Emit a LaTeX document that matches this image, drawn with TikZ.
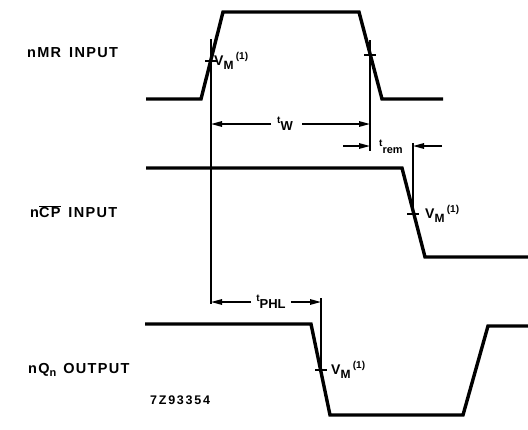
\documentclass[tikz,border=0pt]{standalone}
\usepackage{fontspec}
\setmainfont{Liberation Sans}
\newfontfamily\lblfont[LetterSpace=9]{Liberation Sans}
\newfontfamily\codefont[LetterSpace=14]{Liberation Sans}
\usetikzlibrary{arrows.meta,positioning,calc}

\newcommand\fs[1]{\fontsize{#1}{#1}\selectfont}
\newcommand\vmlab{V\raisebox{-4pt}{\fs{12}M}\,\raisebox{6pt}{\fs{10}(1)}}
\newcommand\tlab[2][13]{\raisebox{5pt}{\fs{10}t}\raisebox{-2pt}{\fs{#1}#2}}

\begin{document}
\begin{tikzpicture}[x=1pt,y=-1pt,
    wave/.style={line width=3.4pt},
    guide/.style={line width=1.3pt},
    tickmark/.style={line width=1.8pt},
    dimarrow/.style={line width=1.5pt,-{Triangle[length=11pt,width=5.5pt]}},
    sig/.style={font=\lblfont\bfseries\fs{14.5}, anchor=west, inner sep=0pt},
    vm/.style={font=\bfseries\fs{14}, anchor=west, inner sep=0pt},
    dimtext/.style={font=\bfseries\fs{14}, inner sep=0pt}]
    \useasboundingbox (0,0) rectangle (528,429);

    % Signal names
    \node[sig] (mrname) at (27,53) {nMR\hspace{8pt}INPUT};
    \node[sig] (cpname) at (30,212) {n$\overline{\mbox{CP}}$\hspace{8pt}INPUT};
    \node[sig] (qname) at (28,370) {nQ\raisebox{-3pt}{\fs{11}n}\hspace{7pt}OUTPUT};
    \node[sig, font=\codefont\bfseries\fs{12.5}] (code) at (150,400) {7Z93354};

    % Waveforms
    \draw[wave] (146,99) -- (201,99) -- (223,12) -- (359,12) -- (382,99) -- (443,99);
    \draw[wave] (146,168) -- (402,168) -- (425,257) -- (528,257);
    \draw[wave] (145,324) -- (311,324) -- (330,415) -- (463,415) -- (488,326) -- (528,326);

    % Points at V_M
    \coordinate (mrrise) at (211,61);
    \coordinate (mrfall) at (370,55);
    \coordinate (cpfall) at (413,214);
    \coordinate (qfall) at (321,370);
    \foreach \p in {mrrise,mrfall,cpfall,qfall}
        \draw[tickmark] ($(\p)+(-6,0)$) -- ($(\p)+(6,0)$);

    \node[vm, right=3pt of mrrise] (vm1) {\vmlab};
    \node[vm, right=12pt of cpfall] (vm2) {\vmlab};
    \node[vm, right=10pt of qfall] (vm3) {\vmlab};

    % Timing labels
    \node[dimtext] (tw) at (285,124) {\tlab{W}};
    \node[dimtext] (trem) at (391,147) {\tlab[11]{rem}};
    \node[dimtext] (tphl) at (271,302) {\tlab{PHL}};
    \coordinate (remL) at (343,146);
    \coordinate (remR) at (442,146);

    % Guide lines
    \draw[guide] ($(mrrise)+(0,-22)$) -- (mrrise |- tphl) -- ++(0,2);
    \draw[guide] ($(mrfall)+(0,-15)$) -- ($(mrfall |- trem)+(0,4)$);
    \draw[guide] ($(cpfall |- trem)+(0,-4)$) -- (cpfall);
    \draw[guide] ($(qfall |- tphl)+(0,-4)$) -- (qfall);

    % Dimension arrows
    \draw[dimarrow] ([xshift=-6pt]tw.west) -- (mrrise |- tw);
    \draw[dimarrow] ([xshift=9pt]tw.east) -- (mrfall |- tw);
    \draw[dimarrow] (remL) -- (mrfall |- remL);
    \draw[dimarrow] (remR) -- (cpfall |- remR);
    \draw[dimarrow] ([xshift=-5pt]tphl.west) -- (mrrise |- tphl);
    \draw[dimarrow] ([xshift=5pt]tphl.east) -- (qfall |- tphl);
\end{tikzpicture}
\end{document}
